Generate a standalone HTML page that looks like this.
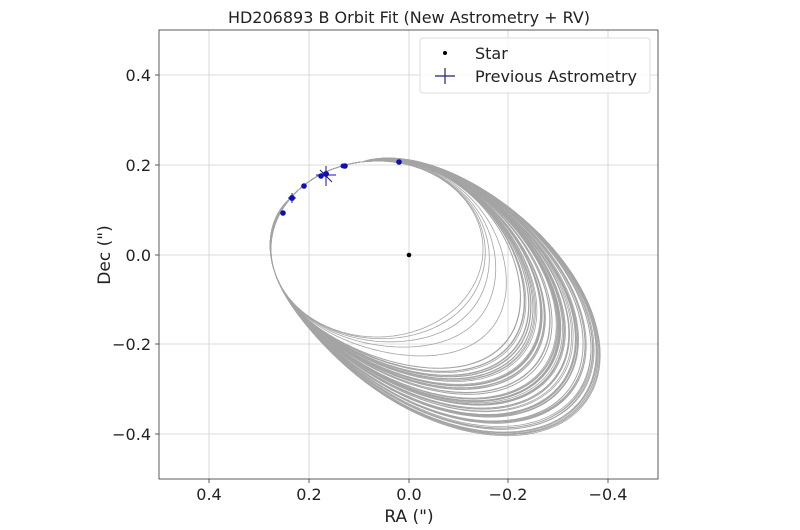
<!DOCTYPE html>
<html><head><meta charset="utf-8"><style>
body{margin:0;background:#fff;}
svg{display:block;font-family:"DejaVu Sans","Liberation Sans",sans-serif;}
</style></head><body>
<svg id="s" width="800" height="530" viewBox="0 0 800 530">
<rect width="800" height="530" fill="#fff"/>
<g stroke="#d0d0d0" stroke-width="0.8">
<line x1="209" y1="30" x2="209" y2="479"/><line x1="309" y1="30" x2="309" y2="479"/><line x1="409" y1="30" x2="409" y2="479"/><line x1="508" y1="30" x2="508" y2="479"/><line x1="608" y1="30" x2="608" y2="479"/>
<line x1="159" y1="75" x2="658" y2="75"/><line x1="159" y1="165" x2="658" y2="165"/><line x1="159" y1="255" x2="658" y2="255"/><line x1="159" y1="344" x2="658" y2="344"/><line x1="159" y1="434" x2="658" y2="434"/>
</g>
<g id="orb" fill="none" stroke="#a4a4a4" stroke-width="0.8"></g>
<rect x="159" y="30" width="499" height="449" fill="none" stroke="#333" stroke-width="0.8"/>
<g stroke="#333" stroke-width="0.8">
<line x1="209" y1="479" x2="209" y2="483"/><line x1="309" y1="479" x2="309" y2="483"/><line x1="409" y1="479" x2="409" y2="483"/><line x1="508" y1="479" x2="508" y2="483"/><line x1="608" y1="479" x2="608" y2="483"/>
<line x1="155" y1="75" x2="159" y2="75"/><line x1="155" y1="165" x2="159" y2="165"/><line x1="155" y1="255" x2="159" y2="255"/><line x1="155" y1="344" x2="159" y2="344"/><line x1="155" y1="434" x2="159" y2="434"/>
</g>
<g font-size="16" fill="#222" text-anchor="middle">
<text x="209" y="500">0.4</text><text x="309" y="500">0.2</text><text x="409" y="500">0.0</text><text x="508" y="500">−0.2</text><text x="608" y="500">−0.4</text>
</g>
<g font-size="16" fill="#222" text-anchor="end">
<text x="151" y="81">0.4</text><text x="151" y="171">0.2</text><text x="151" y="261">0.0</text><text x="151" y="350">−0.2</text><text x="151" y="440">−0.4</text>
</g>
<text x="409" y="522" font-size="17" text-anchor="middle" fill="#222">RA (")</text>
<text transform="translate(110,255) rotate(-90)" font-size="17" text-anchor="middle" fill="#222">Dec (")</text>
<text x="409" y="23" font-size="16" text-anchor="middle" fill="#222">HD206893 B Orbit Fit (New Astrometry + RV)</text>
<circle cx="409" cy="255" r="2.3" fill="#000"/>
<g fill="#1010b0" stroke="#1010b0">
<circle cx="399" cy="162" r="2.3"/><circle cx="345" cy="166" r="2.3"/><circle cx="343" cy="166" r="2"/><circle cx="326" cy="174" r="2.5"/><circle cx="321" cy="176" r="2.3"/><circle cx="304" cy="186" r="2.3"/><circle cx="292" cy="198" r="2.5"/><circle cx="283" cy="213" r="2.3"/>
<path d="M326 166V186M316 175H336M288 198H296M292 193V203M320 170L332 182" stroke-width="1"/>
</g>
<rect x="420" y="38" width="230" height="55" rx="3" fill="#fff" fill-opacity="0.85" stroke="#ddd"/>
<circle cx="445" cy="53" r="2" fill="#000"/>
<path d="M435 76H455M445 68V84" stroke="#22227a" stroke-width="1.2"/>
<text x="475" y="59" font-size="16" fill="#222">Star</text>
<text x="475" y="82" font-size="16" fill="#222">Previous Astrometry</text>
</svg>
<script>
var g=document.getElementById('orb'),h='';
var seed=7;function r(){seed=(seed*9301+49297)%233280;return seed/233280;}
var C={x:377,y:249};
function ray(e,phi){
 var dx=Math.cos(phi),dy=Math.sin(phi),th=e.rot*Math.PI/180,c=Math.cos(th),s=Math.sin(th);
 var px=C.x-e.cx,py=C.y-e.cy;
 var qx=c*px+s*py,qy=-s*px+c*py,ux=c*dx+s*dy,uy=-s*dx+c*dy;
 var A=ux*ux/(e.a*e.a)+uy*uy/(e.b*e.b),B=2*(qx*ux/(e.a*e.a)+qy*uy/(e.b*e.b)),D=qx*qx/(e.a*e.a)+qy*qy/(e.b*e.b)-1;
 return (-B+Math.sqrt(B*B-4*A*D))/(2*A);
}
var I={cx:377,cy:249,a:106,b:88,rot:0},O={cx:436,cy:292,a:188,b:118,rot:35};
var ts=[0,0.03,0.08,0.15,0.25];
for(var i=0;i<80;i++)ts.push(0.3+0.7*Math.pow(r(),0.75));
ts.forEach(function(t){
 var d='';
 var off=(r()-0.5)*0.25;
 for(var k=0;k<=240;k++){
  var phi=k/240*2*Math.PI;
  var ri=ray(I,phi),ro=ray(O,phi);
  var psi=phi-Math.PI/4-off*0.5; while(psi>Math.PI)psi-=2*Math.PI; while(psi<-Math.PI)psi+=2*Math.PI;
  var lim=psi>0?0.9*Math.PI:0.78*Math.PI;
  var w=Math.abs(psi)<lim?Math.pow(Math.cos(psi/lim*Math.PI/2),0.7):0;
  var rr=ri+t*w*Math.max(0,ro-ri);
  d+=(k?'L':'M')+(C.x+rr*Math.cos(phi)).toFixed(1)+' '+(C.y+rr*Math.sin(phi)).toFixed(1);
 }
 h+='<path d="'+d+'Z"/>';
});
g.innerHTML=h;
</script>
</body></html>
